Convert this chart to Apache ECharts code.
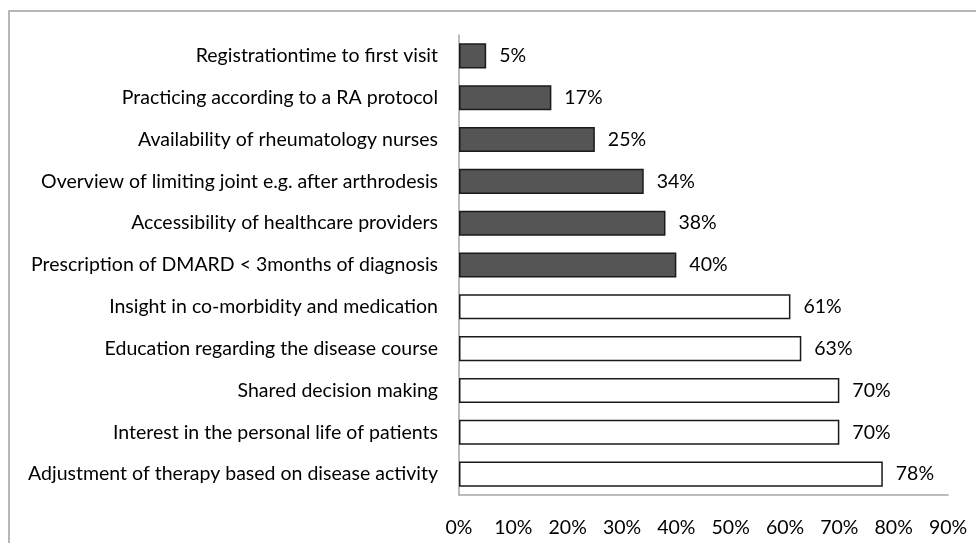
<!DOCTYPE html>
<html>
<head>
<meta charset="utf-8">
<script src="https://cdn.jsdelivr.net/npm/echarts@6/dist/echarts.min.js"></script>
<style>
  html, body { margin: 0; padding: 0; background: #fff; }
  #chart_block { width: 976px; height: 543px; }
</style>
</head>
<body>
<div id="chart_block"></div>
<script>
var categories = [
  'Registrationtime to first visit',
  'Practicing according to a RA protocol',
  'Availability of rheumatology nurses',
  'Overview of limiting joint e.g. after arthrodesis',
  'Accessibility of healthcare providers',
  'Prescription of DMARD < 3months of diagnosis',
  'Insight in co-morbidity and medication',
  'Education regarding the disease course',
  'Shared decision making',
  'Interest in the personal life of patients',
  'Adjustment of therapy based on disease activity'
];
var values = [5, 17, 25, 34, 38, 40, 61, 63, 70, 70, 78];
// dark = filled grey bar, light = white bar
var groups = ['dark', 'dark', 'dark', 'dark', 'dark', 'dark', 'light', 'light', 'light', 'light', 'light'];

const darkColor = '#555555';
const lightColor = '#ffffff';
const font = 'Lato, "Open Sans", sans-serif';
const fontSize = 19.5;

var chartDom = document.getElementById('chart_block');
var myChart = echarts.init(chartDom);

var barData = values.map(function (v, i) {
  return {
    value: v,
    itemStyle: { color: groups[i] == 'dark' ? darkColor : lightColor }
  };
});

var option = {
  animation: false,
  graphic: [
    {
      type: 'polyline',
      shape: { points: [[9, 543], [9, 11], [976, 11]] },
      style: { stroke: '#a0a0a0', lineWidth: 1.5, fill: null }
    }
  ],
  grid: {
    left: 459,
    right: 28,
    top: 35,
    bottom: 48
  },
  xAxis: {
    type: 'value',
    min: 0,
    max: 90,
    interval: 10,
    axisLine: { show: true, lineStyle: { color: '#a6a6a6', width: 1.5 } },
    axisTick: { show: false },
    splitLine: { show: false },
    axisLabel: {
      formatter: '{value}%',
      color: '#000',
      fontFamily: font,
      fontSize: fontSize,
      margin: 23
    }
  },
  yAxis: {
    type: 'category',
    inverse: true,
    data: categories,
    axisLine: { show: true, lineStyle: { color: '#a6a6a6', width: 1.5 } },
    axisTick: { show: false },
    axisLabel: {
      color: '#000',
      fontFamily: font,
      fontSize: fontSize,
      margin: 21
    }
  },
  series: [
    {
      type: 'bar',
      data: barData,
      barCategoryGap: '40%',
      itemStyle: {
        borderColor: '#1a1a1a',
        borderWidth: 1.5
      },
      label: {
        show: true,
        position: 'right',
        distance: 13,
        formatter: '{c}%',
        color: '#000',
        fontFamily: font,
        fontSize: fontSize
      }
    }
  ]
};

myChart.setOption(option);
</script>
</body>
</html>
